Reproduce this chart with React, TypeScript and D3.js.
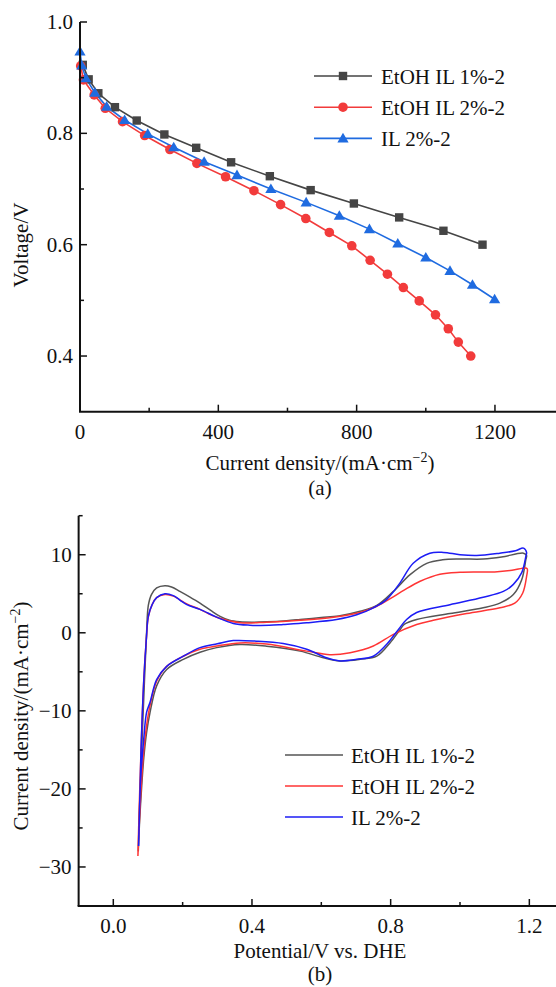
import React from "react";
import * as d3 from "d3";

// ---------- (a) polarization data ----------
const SERIES_A = ["EtOH IL 1%-2", "EtOH IL 2%-2", "IL 2%-2"];
const A1_I = [8, 25, 53, 101, 164, 244, 336, 437, 549, 667, 792, 923, 1051, 1164];
const A1_V = [0.923, 0.897, 0.872, 0.847, 0.823, 0.798, 0.774, 0.748, 0.723, 0.698, 0.674, 0.649, 0.625, 0.6];
const A2_I = [2, 10, 41, 73, 123, 187, 260, 338, 421, 503, 580, 653, 721, 786, 839, 889, 935, 981, 1028, 1065, 1094, 1130];
const A2_V = [0.921, 0.896, 0.869, 0.845, 0.821, 0.796, 0.771, 0.746, 0.722, 0.697, 0.672, 0.647, 0.622, 0.598, 0.572, 0.547, 0.523, 0.499, 0.474, 0.449, 0.425, 0.4];
const A3_I = [0, 5, 17, 43, 77, 129, 196, 271, 359, 454, 552, 654, 750, 837, 919, 1000, 1070, 1135, 1199];
const A3_V = [0.947, 0.922, 0.899, 0.873, 0.848, 0.824, 0.799, 0.775, 0.749, 0.725, 0.7, 0.676, 0.652, 0.628, 0.602, 0.577, 0.553, 0.528, 0.502];
const A_XTICKS = [0, 400, 800, 1200];
const A_XMINOR = [200, 600, 1000];
const A_YTICKS = [0.4, 0.6, 0.8, 1.0];
const A_YMINOR = [0.5, 0.7, 0.9];

// ---------- (b) CV data ----------
const B1_E = [0.072, 0.076, 0.082, 0.09, 0.096, 0.101, 0.11, 0.125, 0.149, 0.168, 0.192, 0.22, 0.25, 0.28, 0.308, 0.335, 0.365, 0.4, 0.442, 0.5, 0.539, 0.6, 0.65, 0.712, 0.76, 0.808, 0.856, 0.904, 0.95, 1.0, 1.067, 1.12, 1.183,
  1.192, 1.19, 1.178, 1.154, 1.115, 1.067, 0.971, 0.875, 0.84, 0.827, 0.798, 0.76, 0.712, 0.654, 0.606, 0.539, 0.442, 0.365, 0.298, 0.25, 0.202, 0.154, 0.125, 0.106, 0.096, 0.088, 0.082, 0.076, 0.072];
const B1_J = [-28.0, -22, -14.9, -6, 0, 3.5, 4.9, 5.75, 6.04, 5.87, 5.3, 4.6, 3.8, 2.9, 2.1, 1.6, 1.4, 1.35, 1.4, 1.55, 1.7, 1.95, 2.15, 2.75, 3.5, 5.3, 7.45, 8.9, 9.35, 9.45, 9.45, 9.7, 10.2,
  9.9, 9.4, 6.8, 4.9, 3.8, 3.2, 2.47, 1.7, 1.1, 0.4, -1.3, -3.0, -3.4, -3.6, -3.2, -2.35, -1.71, -1.5, -1.9, -2.5, -3.4, -4.7, -6.8, -10.2, -12.8, -16, -19.6, -24, -28.0];
const B2_E = [0.071, 0.075, 0.08, 0.088, 0.095, 0.101, 0.112, 0.125, 0.149, 0.173, 0.212, 0.25, 0.298, 0.365, 0.442, 0.539, 0.635, 0.712, 0.76, 0.8, 0.84, 0.885, 0.942, 1.0, 1.1, 1.15, 1.188,
  1.194, 1.192, 1.181, 1.158, 1.115, 1.019, 0.923, 0.875, 0.808, 0.75, 0.683, 0.625, 0.558, 0.442, 0.365, 0.298, 0.25, 0.202, 0.154, 0.125, 0.106, 0.096, 0.088, 0.08, 0.071];
const B2_J = [-28.6, -22, -15, -6, -1, 2.0, 3.6, 4.5, 4.9, 4.7, 3.7, 3.0, 2.0, 1.3, 1.35, 1.6, 2.0, 2.6, 3.4, 4.4, 5.5, 6.6, 7.5, 7.75, 7.8, 8.0, 8.3,
  8.2, 7.2, 5.1, 3.8, 3.2, 2.47, 1.6, 1.06, -0.2, -1.7, -2.55, -2.8, -2.35, -1.45, -1.3, -1.7, -2.1, -3.0, -4.3, -6.2, -9.3, -11.9, -15, -20, -28.6];
const B3_E = [0.073, 0.076, 0.08, 0.088, 0.095, 0.101, 0.112, 0.125, 0.149, 0.173, 0.192, 0.212, 0.25, 0.298, 0.346, 0.394, 0.45, 0.49, 0.558, 0.644, 0.702, 0.75, 0.788, 0.827, 0.865, 0.913, 0.952, 1.0, 1.048, 1.115, 1.16, 1.183,
  1.192, 1.19, 1.178, 1.154, 1.125, 1.067, 0.971, 0.875, 0.846, 0.822, 0.788, 0.75, 0.702, 0.654, 0.615, 0.558, 0.49, 0.414, 0.346, 0.3, 0.25, 0.202, 0.154, 0.125, 0.106, 0.096, 0.088, 0.079, 0.073];
const B3_J = [-27.3, -22, -15, -6, -1, 2.1, 3.6, 4.5, 5.0, 4.76, 4.2, 3.6, 3.0, 2.0, 1.2, 0.97, 0.95, 1.06, 1.28, 1.7, 2.3, 3.2, 4.25, 6.4, 8.9, 10.2, 10.3, 10.0, 9.9, 10.2, 10.5, 10.85,
  10.3, 9.8, 7.7, 6.2, 5.3, 4.55, 3.6, 2.6, 1.7, 0.4, -1.5, -3.0, -3.4, -3.6, -3.2, -2.1, -1.37, -1.07, -1.0, -1.4, -1.9, -3.0, -4.3, -6.0, -8.9, -10.2, -13.5, -18.7, -27.3];
const B_XTICKS = [0, 0.4, 0.8, 1.2];
const B_XMINOR = [0.2, 0.6, 1.0];
const B_YTICKS = [-30, -20, -10, 0, 10];
const B_YMINOR = [-25, -15, -5, 5, 15];

const FONT = "'Liberation Serif', 'Times New Roman', serif";
const FS = 21;

const A_COLORS = ["#454545", "#f23b3b", "#1f6be0"];
const B_COLORS = ["#555555", "#ff3535", "#1c1cf5"];

function Marker({ kind, x, y, color }: { kind: number; x: number; y: number; color: string }) {
  if (kind === 0) return <rect x={x - 4.2} y={y - 4.2} width={8.4} height={8.4} fill={color} />;
  if (kind === 1) return <circle cx={x} cy={y} r={4.8} fill={color} />;
  const s = 5.6;
  return <path d={`M${x},${y - s}L${x + s * 1.0},${y + s * 0.72}L${x - s * 1.0},${y + s * 0.72}Z`} fill={color} />;
}

function fmtMinus(v: number, digits: number) {
  const s = v.toFixed(digits);
  return s.replace("-", "\u2212");
}

export default function App() {
  // ---- panel (a) scales ----
  const ax = d3.scaleLinear().domain([0, 1400]).range([80, 80 + 1400 * 0.3458]);
  const ay = d3.scaleLinear().domain([0.3, 1.0]).range([411.7, 22]);
  const aData = [
    d3.zip(A1_I, A1_V),
    d3.zip(A2_I, A2_V),
    d3.zip(A3_I, A3_V),
  ];
  const aLine = d3.line<number[]>().x((d) => ax(d[0])).y((d) => ay(d[1]));

  // ---- panel (b) scales ----
  const bx = d3.scaleLinear().domain([-0.1, 1.3]).range([113.3 - 34.67, 113.3 + 1.3 * 346.7]);
  const by = d3.scaleLinear().domain([-35, 15]).range([906, 515.7]);
  const bData = [d3.zip(B1_E, B1_J), d3.zip(B2_E, B2_J), d3.zip(B3_E, B3_J)];
  const bLine = d3
    .line<number[]>()
    .x((d) => bx(d[0]))
    .y((d) => by(d[1]))
    .curve(d3.curveCatmullRom.alpha(0.5));

  const axisW = 2;
  const major = 7;
  const minor = 4;
  const txt = { fontFamily: FONT, fontSize: FS, fill: "#111" } as const;

  const aBottom = ay(0.3);
  const aLeft = ax(0);
  const bBottom = by(-35);
  const bLeft = bx(-0.1);

  return (
    <svg
      width={556}
      height={987}
      style={{ position: "absolute", left: 0, top: 0, display: "block", background: "#fff" }}
    >
      <rect width={556} height={987} fill="#fff" />
      {/* ================= Panel (a) ================= */}
      <g>
        {aData.map((pts, i) => (
          <path key={"al" + i} d={aLine(pts as number[][]) || ""} fill="none" stroke={A_COLORS[i]} strokeWidth={1.6} />
        ))}
        {aData.map((pts, i) =>
          pts.map((p, j) => <Marker key={`am${i}-${j}`} kind={i} x={ax(p[0])} y={ay(p[1])} color={A_COLORS[i]} />)
        )}
        {/* axes */}
        <line x1={aLeft} x2={aLeft} y1={ay(1.0)} y2={aBottom} stroke="#111" strokeWidth={axisW} />
        <line x1={aLeft - 1} x2={560} y1={aBottom} y2={aBottom} stroke="#111" strokeWidth={axisW} />
        {A_XTICKS.map((t) => (
          <g key={"axt" + t}>
            <line x1={ax(t)} x2={ax(t)} y1={aBottom} y2={aBottom - major} stroke="#111" strokeWidth={1.5} />
            <text x={ax(t)} y={aBottom + 27} textAnchor="middle" {...txt}>
              {t}
            </text>
          </g>
        ))}
        {A_XMINOR.map((t) => (
          <line key={"axm" + t} x1={ax(t)} x2={ax(t)} y1={aBottom} y2={aBottom - minor} stroke="#111" strokeWidth={1.5} />
        ))}
        {A_YTICKS.map((t) => (
          <g key={"ayt" + t}>
            <line x1={aLeft} x2={aLeft + major} y1={ay(t)} y2={ay(t)} stroke="#111" strokeWidth={1.5} />
            <text x={aLeft - 7} y={ay(t) + 7} textAnchor="end" {...txt}>
              {t.toFixed(1)}
            </text>
          </g>
        ))}
        {A_YMINOR.map((t) => (
          <line key={"aym" + t} x1={aLeft} x2={aLeft + minor} y1={ay(t)} y2={ay(t)} stroke="#111" strokeWidth={1.5} />
        ))}
        <text transform={`translate(28,245) rotate(-90)`} textAnchor="middle" {...txt}>
          Voltage/V
        </text>
        <text x={320} y={470} textAnchor="middle" {...txt}>
          Current density/(mA·cm
          <tspan dy={-8} fontSize={14}>−2</tspan>
          <tspan dy={8}>)</tspan>
        </text>
        <text x={320} y={495} textAnchor="middle" {...txt}>
          (a)
        </text>
        {/* legend */}
        {SERIES_A.map((s, i) => {
          const y = 76 + i * 31.2;
          return (
            <g key={"alg" + i}>
              <line x1={314} x2={372} y1={y} y2={y} stroke={A_COLORS[i]} strokeWidth={1.6} />
              <Marker kind={i} x={343} y={y} color={A_COLORS[i]} />
              <text x={381} y={y + 7.5} {...txt}>
                {s}
              </text>
            </g>
          );
        })}
      </g>

      {/* ================= Panel (b) ================= */}
      <g>
        {bData.map((pts, i) => (
          <path key={"bl" + i} d={bLine(pts as number[][]) || ""} fill="none" stroke={B_COLORS[i]} strokeWidth={1.5} strokeLinejoin="round" />
        ))}
        <line x1={bLeft} x2={bLeft} y1={by(15)} y2={bBottom} stroke="#111" strokeWidth={axisW} />
        <line x1={bLeft - 1} x2={560} y1={bBottom} y2={bBottom} stroke="#111" strokeWidth={axisW} />
        {B_XTICKS.map((t) => (
          <g key={"bxt" + t}>
            <line x1={bx(t)} x2={bx(t)} y1={bBottom} y2={bBottom - major} stroke="#111" strokeWidth={1.5} />
            <text x={bx(t)} y={bBottom + 27} textAnchor="middle" {...txt}>
              {t.toFixed(1)}
            </text>
          </g>
        ))}
        {B_XMINOR.map((t) => (
          <line key={"bxm" + t} x1={bx(t)} x2={bx(t)} y1={bBottom} y2={bBottom - minor} stroke="#111" strokeWidth={1.5} />
        ))}
        {B_YTICKS.map((t) => (
          <g key={"byt" + t}>
            <line x1={bLeft} x2={bLeft + major} y1={by(t)} y2={by(t)} stroke="#111" strokeWidth={1.5} />
            <text x={bLeft - 7} y={by(t) + 7} textAnchor="end" {...txt}>
              {fmtMinus(t, 0)}
            </text>
          </g>
        ))}
        {B_YMINOR.map((t) => (
          <line key={"bym" + t} x1={bLeft} x2={bLeft + minor} y1={by(t)} y2={by(t)} stroke="#111" strokeWidth={1.5} />
        ))}
        <text transform={`translate(28,716) rotate(-90)`} textAnchor="middle" {...txt}>
          Current density/(mA·cm
          <tspan dy={-8} fontSize={14}>−2</tspan>
          <tspan dy={8}>)</tspan>
        </text>
        <text x={320} y={958} textAnchor="middle" {...txt}>
          Potential/V vs. DHE
        </text>
        <text x={320} y={981} textAnchor="middle" {...txt}>
          (b)
        </text>
        {SERIES_A.map((s, i) => {
          const y = 755 + i * 31;
          return (
            <g key={"blg" + i}>
              <line x1={285} x2={343} y1={y} y2={y} stroke={B_COLORS[i]} strokeWidth={1.6} />
              <text x={351} y={y + 7.5} {...txt}>
                {s}
              </text>
            </g>
          );
        })}
      </g>
    </svg>
  );
}
